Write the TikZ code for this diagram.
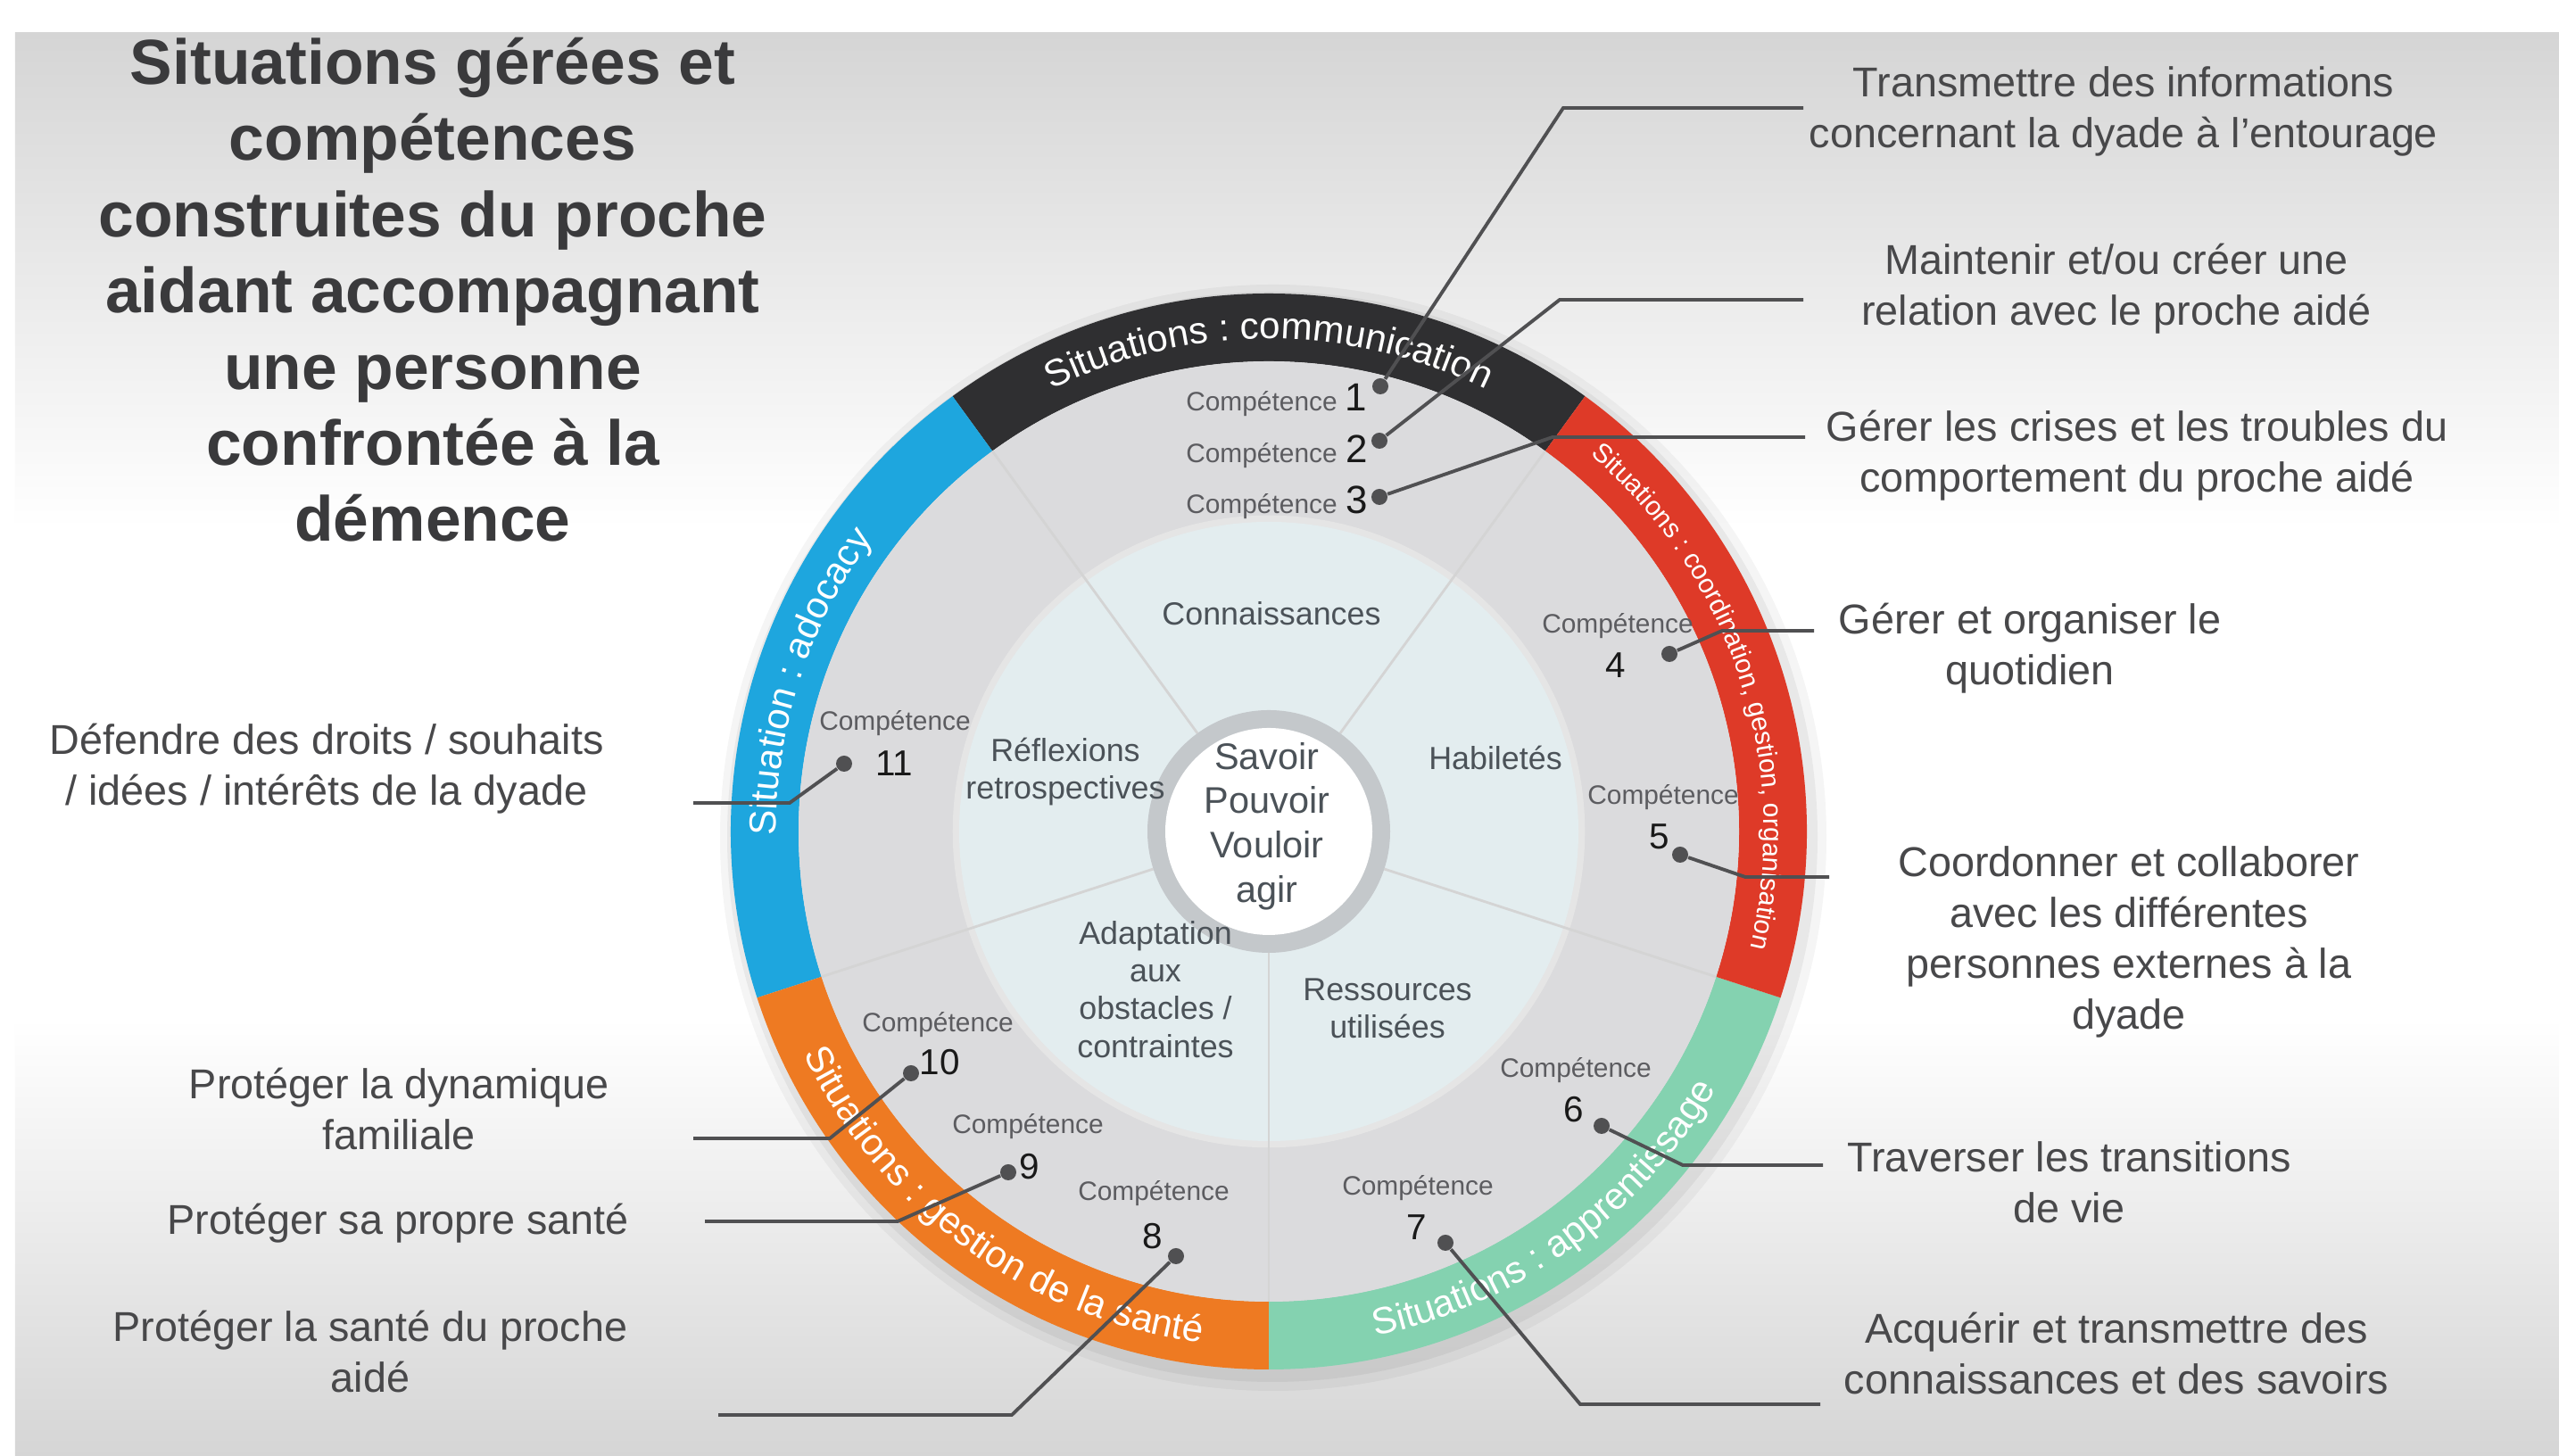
\documentclass[tikz,border=0pt]{standalone}
\usepackage{fontspec}
\setmainfont{Liberation Sans}
\usetikzlibrary{decorations.text}

\definecolor{bggray}{RGB}{213,213,213}
\definecolor{ringblack}{RGB}{47,47,49}
\definecolor{ringblue}{RGB}{30,166,222}
\definecolor{ringorange}{RGB}{238,122,34}
\definecolor{ringgreen}{RGB}{132,210,176}
\definecolor{ringred}{RGB}{222,58,40}
\definecolor{compring}{RGB}{219,219,221}
\definecolor{discblue}{RGB}{227,237,239}
\definecolor{hubgray}{RGB}{196,200,203}
\definecolor{titlegray}{RGB}{58,58,60}
\definecolor{textgray}{RGB}{72,72,74}
\definecolor{facetgray}{RGB}{75,82,88}
\definecolor{compgray}{RGB}{92,92,96}
\definecolor{leadgray}{RGB}{80,80,82}

\newcommand{\ringfont}{\fontsize{12}{12}\selectfont}
\newcommand{\ringsmall}{\fontsize{8.5}{8.5}\selectfont}

\begin{document}
\begin{tikzpicture}[
    heading/.style={text=titlegray,align=center,font=\bfseries\fontsize{20.3}{24.3}\selectfont},
    goal/.style={text=textgray,align=center,font=\fontsize{13.3}{16.2}\selectfont},
    facet/.style={text=facetgray,align=center,font=\fontsize{10.2}{12}\selectfont},
    comp/.style={text=compgray,anchor=base,inner sep=0pt,font=\fontsize{8.5}{10}\selectfont},
    num/.style={text=black!90,anchor=base,inner sep=0pt,font=\fontsize{11.5}{13}\selectfont},
    dot/.style={circle,fill=leadgray,inner sep=0pt,minimum size=0.18cm},
    leader/.style={draw=leadgray,line width=1.1pt},
    spoke/.style={draw=black!17,line width=0.8pt},
    ringtext/.style={decorate,decoration={text along path,text align=center,text color=white,text={#1}}}
  ]
    \useasboundingbox (0,0) rectangle (28.68,16.32);
    \fill[white] (0,0) rectangle (28.68,16.32);
    \fill[white] (0.17,0) rectangle (28.68,15.95);
    \shade[top color=bggray,bottom color=white] (0.17,10.4) rectangle (28.68,15.95);
    \shade[top color=white,bottom color=bggray] (0.17,0) rectangle (28.68,4.9);

    \node[heading] (titre) at (4.85,13.07) {Situations gérées et\\compétences\\construites du proche\\aidant accompagnant\\une personne\\confrontée à la\\démence};

    \begin{scope}[shift={(14.22,7.00)}]
        \fill[black,opacity=0.04] (0.05,-0.07) circle (6.20);
        \fill[black,opacity=0.05] (0.04,-0.06) circle (6.11);
        \fill[ringblack] (54:6.03) arc[start angle=54,end angle=126,radius=6.03] -- (126:5.27) arc[start angle=126,end angle=54,radius=5.27] -- cycle;
        \fill[ringblue] (126:6.03) arc[start angle=126,end angle=198,radius=6.03] -- (198:5.27) arc[start angle=198,end angle=126,radius=5.27] -- cycle;
        \fill[ringorange] (198:6.03) arc[start angle=198,end angle=270,radius=6.03] -- (270:5.27) arc[start angle=270,end angle=198,radius=5.27] -- cycle;
        \fill[ringgreen] (270:6.03) arc[start angle=270,end angle=342,radius=6.03] -- (342:5.27) arc[start angle=342,end angle=270,radius=5.27] -- cycle;
        \fill[ringred] (342:6.03) arc[start angle=342,end angle=414,radius=6.03] -- (414:5.27) arc[start angle=414,end angle=342,radius=5.27] -- cycle;
        \fill[compring] (0,0) circle (5.27);
        \draw[black!10,line width=3pt] (0,0) circle (3.49);
        \fill[discblue] (0,0) circle (3.47);
        \draw[spoke] (54:1.36) -- (54:5.27);
        \draw[spoke] (126:1.36) -- (126:5.27);
        \draw[spoke] (198:1.36) -- (198:5.27);
        \draw[spoke] (270:1.36) -- (270:5.27);
        \draw[spoke] (342:1.36) -- (342:5.27);
        \fill[hubgray] (0,0) circle (1.36);
        \fill[white] (0,0) circle (1.16);
        \path[ringtext={|\ringfont|Situations : communication}] (126:5.52) arc[start angle=126,end angle=54,radius=5.52];
        \path[ringtext={|\ringfont|Situation : adocacy}] (198:5.52) arc[start angle=198,end angle=126,radius=5.52];
        \path[ringtext={|\ringsmall|Situations : coordination, gestion, organisation}] (54:5.55) arc[start angle=54,end angle=-18,radius=5.55];
        \path[ringtext={|\ringfont|Situations : gestion de la santé}] (198:5.78) arc[start angle=198,end angle=270,radius=5.78];
        \path[ringtext={|\ringfont|Situations : apprentissage}] (270:5.78) arc[start angle=270,end angle=342,radius=5.78];
    \end{scope}

    \node[facet] (connaissances) at (14.25,9.44) {Connaissances};
    \node[facet] (habiletes)     at (16.76,7.82) {Habiletés};
    \node[facet] (reflexions)    at (11.94,7.67) {Réflexions\\retrospectives};
    \node[facet] (adaptation)    at (12.95,5.23) {Adaptation\\aux\\obstacles /\\contraintes};
    \node[facet] (ressources)    at (15.55,5.02) {Ressources\\utilisées};
    \node[text=facetgray,align=center,font=\fontsize{11.8}{14.1}\selectfont] (savoir) at (14.20,7.06) {Savoir\\Pouvoir\\Vouloir\\agir};

    \node[comp] (c1)  at (14.14,11.71) {Compétence};
    \node[comp] (c2)  at (14.14,11.13) {Compétence};
    \node[comp] (c3)  at (14.14,10.56) {Compétence};
    \node[comp] (c4)  at (18.13,9.22) {Compétence};
    \node[comp] (c5)  at (18.64,7.30) {Compétence};
    \node[comp] (c6)  at (17.66,4.24) {Compétence};
    \node[comp] (c7)  at (15.89,2.92) {Compétence};
    \node[comp] (c8)  at (12.93,2.86) {Compétence};
    \node[comp] (c9)  at (11.52,3.61) {Compétence};
    \node[comp] (c10) at (10.51,4.75) {Compétence};
    \node[comp] (c11) at (10.03,8.13) {Compétence};
    \node[num,font=\fontsize{12.5}{14}\selectfont] (n1) at (15.20,11.71) {1};
    \node[num,font=\fontsize{12.5}{14}\selectfont] (n2) at (15.21,11.13) {2};
    \node[num,font=\fontsize{12.5}{14}\selectfont] (n3) at (15.21,10.56) {3};
    \node[num] (n4)  at (18.11,8.72) {4};
    \node[num] (n5)  at (18.60,6.80) {5};
    \node[num] (n6)  at (17.64,3.74) {6};
    \node[num] (n7)  at (15.88,2.42) {7};
    \node[num] (n8)  at (12.92,2.32) {8};
    \node[num] (n9)  at (11.54,3.10) {9};
    \node[num] (n10) at (10.53,4.27) {10};
    \node[num] (n11) at (10.02,7.62) {11};

    \node[goal] (t1)  at (23.80,15.07) {Transmettre des informations\\concernant la dyade à l’entourage};
    \node[goal] (t2)  at (23.72,13.08) {Maintenir et/ou créer une\\relation avec le proche aidé};
    \node[goal] (t3)  at (23.95,11.21) {Gérer les crises et les troubles du\\comportement du proche aidé};
    \node[goal] (t4)  at (22.75,9.05)  {Gérer et organiser le\\quotidien};
    \node[goal] (t5)  at (23.86,5.76)  {Coordonner et collaborer\\avec les différentes\\personnes externes à la\\dyade};
    \node[goal] (t6)  at (23.19,3.07)  {Traverser les transitions\\de vie};
    \node[goal] (t7)  at (23.72,1.15)  {Acquérir et transmettre des\\connaissances et des savoirs};
    \node[goal] (t8)  at (4.15,1.17)   {Protéger la santé du proche\\aidé};
    \node[goal] (t9)  at (4.46,2.61)   {Protéger sa propre santé};
    \node[goal] (t10) at (4.47,3.89)   {Protéger la dynamique\\familiale};
    \node[goal] (t11) at (3.66,7.70)   {Défendre des droits / souhaits\\/ idées / intérêts de la dyade};

    \node[dot] (d1)  at (15.47,11.99) {};
    \node[dot] (d2)  at (15.46,11.38) {};
    \node[dot] (d3)  at (15.46,10.75) {};
    \node[dot] (d4)  at (18.71,8.99) {};
    \node[dot] (d5)  at (18.83,6.74) {};
    \node[dot] (d6)  at (17.95,3.70) {};
    \node[dot] (d7)  at (16.20,2.39) {};
    \node[dot] (d8)  at (13.18,2.24) {};
    \node[dot] (d9)  at (11.30,3.18) {};
    \node[dot] (d10) at (10.21,4.29) {};
    \node[dot] (d11) at (9.46,7.76) {};
    \coordinate (b1)  at (17.52,15.11); \coordinate (e1)  at (20.21,15.11);
    \coordinate (b2)  at (17.48,12.96); \coordinate (e2)  at (20.21,12.96);
    \coordinate (b3)  at (17.40,11.42); \coordinate (e3)  at (20.23,11.42);
    \coordinate (b4)  at (19.30,9.25);  \coordinate (e4)  at (20.33,9.25);
    \coordinate (b5)  at (19.56,6.49);  \coordinate (e5)  at (20.50,6.49);
    \coordinate (b6)  at (18.86,3.26);  \coordinate (e6)  at (20.43,3.26);
    \coordinate (b7)  at (17.71,0.58);  \coordinate (e7)  at (20.40,0.58);
    \coordinate (b8)  at (11.34,0.46);  \coordinate (e8)  at (8.05,0.46);
    \coordinate (b9)  at (10.06,2.63);  \coordinate (e9)  at (7.90,2.63);
    \coordinate (b10) at (9.30,3.56);   \coordinate (e10) at (7.77,3.56);
    \coordinate (b11) at (8.85,7.32);   \coordinate (e11) at (7.77,7.32);
    \draw[leader] (d1) -- (b1) -- (e1);
    \draw[leader] (d2) -- (b2) -- (e2);
    \draw[leader] (d3) -- (b3) -- (e3);
    \draw[leader] (d4) -- (b4) -- (e4);
    \draw[leader] (d5) -- (b5) -- (e5);
    \draw[leader] (d6) -- (b6) -- (e6);
    \draw[leader] (d7) -- (b7) -- (e7);
    \draw[leader] (d8) -- (b8) -- (e8);
    \draw[leader] (d9) -- (b9) -- (e9);
    \draw[leader] (d10) -- (b10) -- (e10);
    \draw[leader] (d11) -- (b11) -- (e11);
\end{tikzpicture}
\end{document}
